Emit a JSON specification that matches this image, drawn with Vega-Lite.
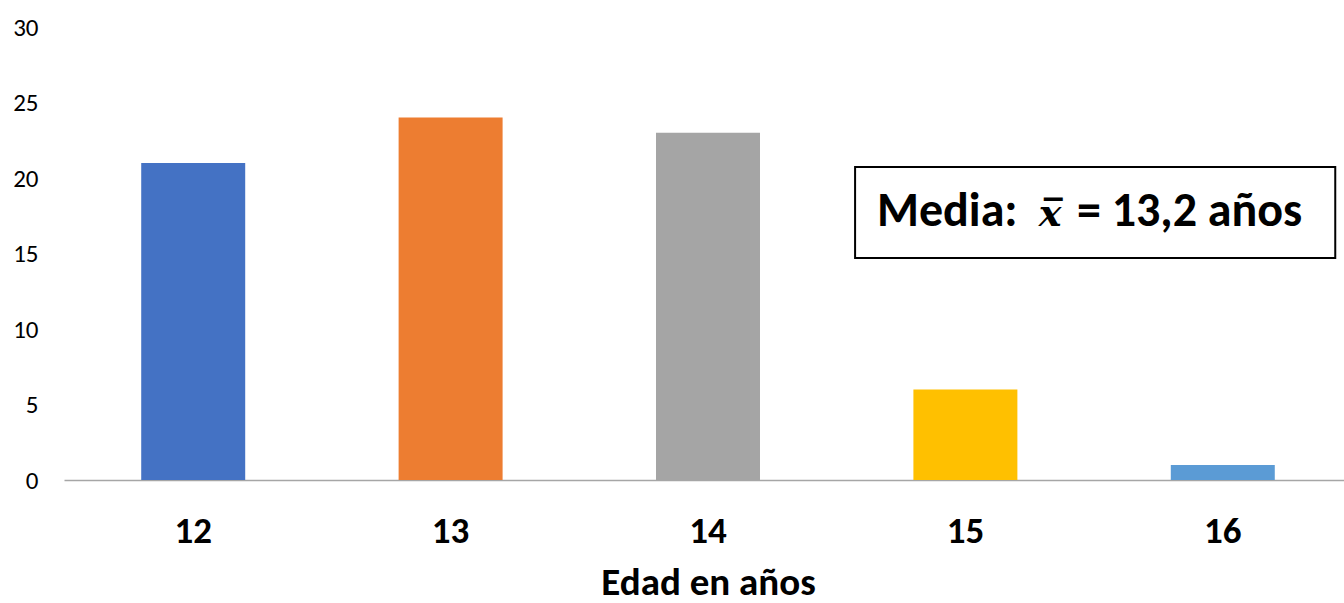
{
  "$schema": "https://vega.github.io/schema/vega-lite/v6.json",
  "width": 1280,
  "height": 453,
  "autosize": {"type": "none"},
  "padding": {"left": 64, "top": 27, "right": 0, "bottom": 123},
  "background": "white",
  "config": {"view": {"stroke": null}, "font": "Carlito, Open Sans"},
  "layer": [
    {
      "data": {"values": [
        {"edad": "12", "frecuencia": 21},
        {"edad": "13", "frecuencia": 24},
        {"edad": "14", "frecuencia": 23},
        {"edad": "15", "frecuencia": 6},
        {"edad": "16", "frecuencia": 1}
      ]},
      "mark": {"type": "bar"},
      "encoding": {
        "x": {
          "field": "edad", "type": "nominal", "sort": null,
          "scale": {"range": [0, 1288], "paddingInner": 0.596, "paddingOuter": 0.3},
          "axis": {
            "title": "Edad en años", "labelAngle": 0, "ticks": false, "tickSize": 0,
            "labelPadding": 62, "labelBaseline": "alphabetic", "labelFontSize": 37, "labelFontWeight": "bold", "labelColor": "black",
            "labelFont": "Carlito, Open Sans",
            "domainColor": "#a6a6a6", "domainWidth": 1.5, "grid": false,
            "titleFontSize": 39, "titleFontWeight": "bold", "titleColor": "black",
            "titleFont": "Carlito, Open Sans", "titleX": 644, "titleY": 122, "titleBaseline": "bottom"
          }
        },
        "y": {
          "field": "frecuencia", "type": "quantitative",
          "scale": {"domain": [0, 30], "nice": false},
          "axis": {
            "title": null, "values": [0, 5, 10, 15, 20, 25, 30], "domain": false, "ticks": false, "tickSize": 0,
            "grid": false, "labelPadding": 26, "labelFontSize": 25, "labelColor": "black", "labelFont": "Carlito, Open Sans"
          }
        },
        "color": {
          "field": "edad", "type": "nominal", "sort": null,
          "scale": {"domain": ["12", "13", "14", "15", "16"], "range": ["#4472C4", "#ED7D31", "#A5A5A5", "#FFC000", "#5B9BD5"]},
          "legend": null
        }
      }
    },
    {
      "layer": [
        {
          "data": {"values": [{"x1": 3.071, "x2": 4.935, "y1": 14.7, "y2": 20.73}]},
          "mark": {"type": "rect", "fill": "white", "stroke": "black", "strokeWidth": 2},
          "encoding": {
            "x": {"field": "x1", "type": "quantitative", "scale": {"domain": [0, 5], "range": [0, 1288], "nice": false, "zero": false}, "axis": null},
            "x2": {"field": "x2"},
            "y": {"field": "y1", "type": "quantitative", "axis": {"title": null}},
            "y2": {"field": "y2"}
          }
        },
        {
          "data": {"values": [{"etiqueta": "Media:", "xp": 3.156, "yp": 16.82}]},
          "mark": {"type": "text", "align": "left", "baseline": "alphabetic", "fontSize": 48, "fontWeight": "bold", "font": "Carlito, Open Sans", "color": "black"},
          "encoding": {
            "x": {"field": "xp", "type": "quantitative", "axis": null},
            "y": {"field": "yp", "type": "quantitative"},
            "text": {"field": "etiqueta"}
          }
        },
        {
          "data": {"values": [{"etiqueta": "x̅", "xp": 3.828, "yp": 16.82}]},
          "mark": {"type": "text", "align": "center", "baseline": "alphabetic", "fontSize": 38, "fontStyle": "italic", "fontWeight": "bold", "font": "DejaVu Serif", "color": "black"},
          "encoding": {
            "x": {"field": "xp", "type": "quantitative", "axis": null},
            "y": {"field": "yp", "type": "quantitative"},
            "text": {"field": "etiqueta"}
          }
        },
        {
          "data": {"values": [{"etiqueta": "= 13,2 años", "xp": 3.932, "yp": 16.82}]},
          "mark": {"type": "text", "align": "left", "baseline": "alphabetic", "fontSize": 48, "fontWeight": "bold", "font": "Carlito, Open Sans", "color": "black"},
          "encoding": {
            "x": {"field": "xp", "type": "quantitative", "axis": null},
            "y": {"field": "yp", "type": "quantitative"},
            "text": {"field": "etiqueta"}
          }
        }
      ]
    }
  ],
  "resolve": {"scale": {"x": "independent"}}
}
